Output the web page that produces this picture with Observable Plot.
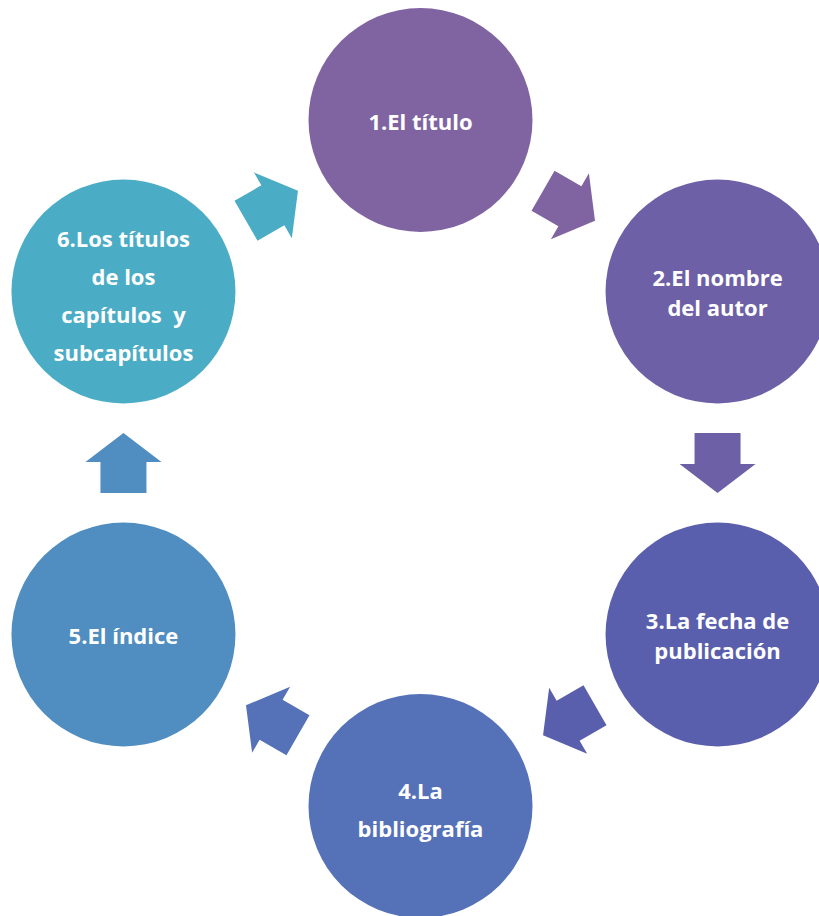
<!DOCTYPE html>
<html>
<head>
<meta charset="utf-8">
<script src="https://cdn.jsdelivr.net/npm/d3@7"></script>
<script src="https://cdn.jsdelivr.net/npm/@observablehq/plot@0.6"></script>
<style>
  html, body { margin: 0; padding: 0; background: #ffffff; overflow: hidden; }
  #chart svg { display: block; }
</style>
</head>
<body>
<div id="chart"></div>
<script>
// Steps of the cycle (clockwise, starting at the top)
const steps = [
  "1.El título",
  "2.El nombre\ndel autor",
  "3.La fecha de\npublicación",
  "4.La\nbibliografía",
  "5.El índice",
  "6.Los títulos\nde los\ncapítulos  y\nsubcapítulos"
];
// Fill colour of each step (and of the arrow leaving it)
const colors = ["#8064A2", "#6D60A6", "#5A5FAD", "#5571B8", "#508DC0", "#4BACC6"];
// Line spacing (em) of each label
const lineHeights = [1.37, 1.37, 1.37, 1.73, 1.37, 1.73];

// Layout derived from the cycle order: nodes on a hexagon, arrows at chord midpoints
const n = steps.length;
const rad = (deg) => deg * Math.PI / 180;
const nodes = steps.map((label, i) => {
  const b = rad(i * 360 / n);
  return {label, i, x: Math.sin(b), y: Math.cos(b), color: colors[i], lh: lineHeights[i]};
});
const arrows = nodes.map((a, i) => {
  const b = nodes[(i + 1) % n];
  return {x: (a.x + b.x) / 2, y: (a.y + b.y) / 2, angle: i * 360 / n + 360 / (2 * n) + 90, color: a.color};
});

// Block arrow symbol (points "up" before rotation)
const arrowSymbol = {
  draw(ctx, size) {
    const r = Math.sqrt(size / Math.PI);
    const k = r / 38;
    const pts = [[0, -30], [38, -1], [23, -1], [23, 30], [-23, 30], [-23, -1], [-38, -1]];
    ctx.moveTo(pts[0][0] * k, pts[0][1] * k);
    for (let j = 1; j < pts.length; ++j) ctx.lineTo(pts[j][0] * k, pts[j][1] * k);
    ctx.closePath();
  }
};

const R = 343; // pixel radius of the cycle
const chart = Plot.plot({
  width: 819,
  height: 916,
  margin: 0,
  x: {axis: null, domain: [-420 / R, 399 / R]},
  y: {axis: null, domain: [-453.5 / R, 462.5 / R]},
  style: {background: "#ffffff"},
  marks: [
    Plot.dot(nodes, {x: "x", y: "y", r: 112, fill: "color", stroke: "none"}),
    Plot.dot(arrows, {x: "x", y: "y", r: 38, symbol: arrowSymbol, rotate: "angle", fill: "color", stroke: "none"}),
    ...nodes.map((d) =>
      Plot.text([d], {
        x: "x", y: "y", text: "label",
        fill: "#ffffff",
        fontSize: 22,
        fontWeight: "bold",
        fontFamily: "'Open Sans', Lato, sans-serif",
        lineHeight: d.lh,
        textAnchor: "middle"
      })
    )
  ]
});
document.getElementById("chart").appendChild(chart);
</script>
</body>
</html>
